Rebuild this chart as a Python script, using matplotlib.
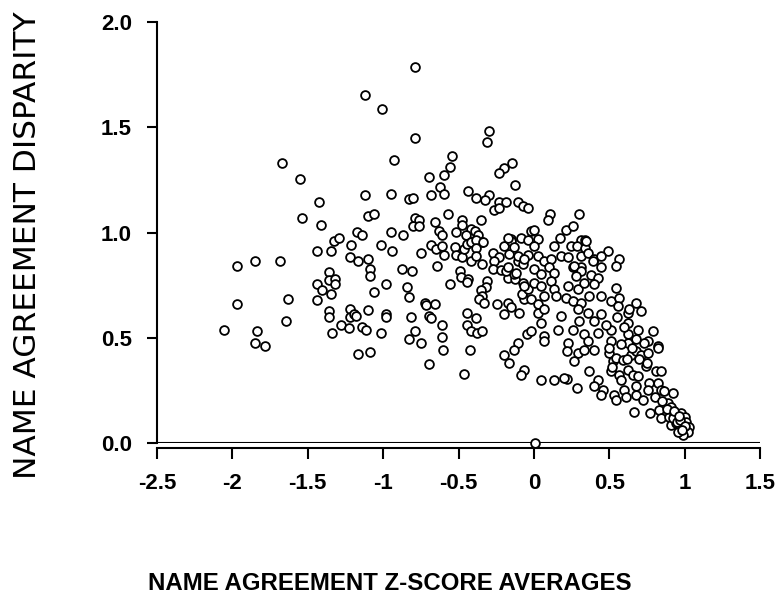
import matplotlib.pyplot as plt

# name agreement z-score averages (x) vs name agreement disparity (y)
zscore = [
    -1.674, -1.550, -1.427, -1.537, -1.415, -1.329, -1.291, -1.442, -1.347, -1.216,
    -1.221, -1.971, -1.849, -1.686, -1.360, -1.362, -1.322, -1.322, -1.442, -1.404,
    -1.347, -1.442, -1.971, -1.633, -1.646, -1.360, -1.360, -1.278, -1.229, -1.223,
    -1.223, -1.336, -2.053, -1.836, -1.849, -1.781,
    -0.789, -1.118, -1.008, -0.789, -0.299, -0.314, -0.926, -0.540, -0.558, -0.693,
    -0.598, -0.148, -0.197, -0.230, -0.124, -0.625, -0.598, -0.680, -1.118, -0.950,
    -0.829, -0.800, -0.439, -0.381, -0.299, -0.326, -0.230, -0.186, -0.264, -0.230,
    -0.108, -0.075, -0.038, -1.098, -1.061, -0.573, -0.791, -0.762, -0.802, -0.762,
    -0.653, -0.474, -0.474, -0.350, -1.172, -1.141, -0.950, -0.868, -0.628, -0.516,
    -0.419, -0.390, -0.452, -0.020,
    -0.611, -0.370, -0.397, -0.341, -0.153,
    -1.017, -0.939, -0.746, -0.684, -0.651, -0.607, -0.596, -0.525, -0.516, -0.474,
    -0.463, -0.441, -0.419, -0.383, -0.383, -0.339, -0.640, -0.556, -0.490, -0.485,
    -0.437, -0.445, -0.419, -0.383, -0.341,
    -0.272, -0.230, -0.264, -0.268, -0.219, -0.175, -0.126, -0.135, -0.186, -0.308,
    -0.317, -0.352, -0.341, -0.363, -0.330, -0.246, -0.175, -0.153, -0.197, -0.098,
    -0.064, -0.082, -0.042, -0.075, -0.108, -0.075, -0.042, -0.164, -0.197, -0.153,
    -1.167, -1.101, -1.088, -1.088, -1.061, -0.983, -0.873, -0.806, -0.844, -0.829,
    -1.194, -1.183, -1.101, -0.983, -0.983, -1.138, -1.116, -1.017, -1.167, -1.088,
    -0.817, -0.724, -0.716, -0.653, -0.693, -0.680, -0.609, -0.791, -0.829, -0.751,
    -0.611, -0.600, -0.693, -0.463,
    -0.441, -0.385, -0.441, -0.419, -0.379, -0.341, -0.423,
    -0.047, -0.108, -0.135, -0.197, -0.164, -0.064, -0.086,
    0.106, 0.091, 0.297, 0.002, 0.213, 0.257,
    -0.175, -0.086, -0.042, 0.029, 0.175, 0.312, 0.341,
    -0.131, 0.002, 0.135, 0.246, 0.286, 0.339, 0.490, 0.567, 0.545,
    -0.108, -0.064, 0.025, 0.068, 0.113, 0.179, 0.224, 0.312, 0.357, 0.401, 0.445,
    -0.175, -0.120, 0.002, 0.047, 0.102, 0.135, 0.257, 0.312, 0.379, 0.445, 0.423,
    -0.064, 0.002, 0.047, 0.113, 0.135, 0.224, 0.290, 0.334, 0.401, 0.545,
    -0.020, 0.025, 0.068, 0.146, 0.213, 0.257, 0.312, 0.367, 0.445, 0.512, 0.567, 0.678,
    0.025, 0.068, 0.179, 0.290, 0.357, 0.445, 0.556, 0.623, 0.711,
    -0.020, 0.047, 0.068, 0.157, 0.257, 0.334, 0.423, 0.512, 0.623, 0.689, 0.789,
    0.068, 0.224, 0.357, 0.512, 0.623, 0.756, 0.822,
    0.219, 0.290, 0.334, 0.401, 0.264,
    0.500, 0.523, 0.545, 0.589, 0.645, 0.678, 0.711, 0.756, 0.822,
    0.512, 0.567, 0.623, 0.656, 0.689, 0.744, 0.811, 0.844,
    0.367, 0.423, 0.219, 0.286,
    0.401, 0.456, 0.445, 0.534, 0.545, 0.600, 0.611, 0.678, 0.722, 0.766, 0.822, 0.844,
    0.866, 0.922,
    0.667, 0.773, 0.833, 0.844, 0.888, 0.910, 0.899, 0.932, 0.910, 0.944, 0.966, 0.977,
    0.999, 1.010, 1.032, 1.021, 0.988, 0.955,
    0.009, 0.047, 0.135, 0.201,
    0.390, 0.268, 0.312, 0.279, 0.634, 0.733, 0.678, 0.623, 0.346,
    0.300, 0.400, 0.480, 0.550, 0.600, 0.500, 0.580, 0.650, 0.700, 0.750,
    0.620, 0.520, 0.580, 0.680, 0.760, 0.800, 0.850, 0.880, 0.920, 0.950,
    0.970, 1.000, 0.980, 0.930, 0.960,
]
disparity = [
    1.330, 1.255, 1.147, 1.068, 1.037, 0.961, 0.972, 0.913, 0.913, 0.940,
    0.883, 0.842, 0.864, 0.864, 0.813, 0.775, 0.778, 0.757, 0.757, 0.726,
    0.710, 0.678, 0.659, 0.686, 0.579, 0.627, 0.598, 0.562, 0.547, 0.635,
    0.598, 0.524, 0.539, 0.530, 0.473, 0.463,
    1.784, 1.655, 1.588, 1.450, 1.481, 1.432, 1.345, 1.364, 1.313, 1.265,
    1.273, 1.332, 1.308, 1.283, 1.225, 1.217, 1.185, 1.176, 1.176, 1.185,
    1.157, 1.166, 1.197, 1.166, 1.176, 1.155, 1.146, 1.146, 1.107, 1.118,
    1.146, 1.128, 1.118, 1.077, 1.088, 1.088, 1.069, 1.060, 1.030, 1.030,
    1.050, 1.060, 1.036, 1.060, 1.004, 0.990, 1.004, 0.990, 1.009, 1.004,
    1.017, 1.007, 0.988, 1.009,
    0.990, 0.990, 0.959, 0.956, 0.969,
    0.940, 0.913, 0.905, 0.940, 0.921, 0.937, 0.893, 0.929, 0.893, 0.882,
    0.921, 0.945, 0.953, 0.966, 0.925, 0.953, 0.842, 0.757, 0.818, 0.791,
    0.781, 0.765, 0.865, 0.889, 0.850,
    0.905, 0.886, 0.865, 0.826, 0.822, 0.786, 0.778, 0.802, 0.818, 0.770,
    0.743, 0.727, 0.698, 0.683, 0.663, 0.659, 0.663, 0.648, 0.611, 0.619,
    0.683, 0.706, 0.730, 0.762, 0.865, 0.850, 0.893, 0.897, 0.937, 0.961,
    0.865, 0.874, 0.826, 0.794, 0.718, 0.754, 0.826, 0.818, 0.743, 0.695,
    0.611, 0.603, 0.630, 0.611, 0.600, 0.552, 0.539, 0.524, 0.425, 0.433,
    0.600, 0.667, 0.654, 0.659, 0.603, 0.592, 0.563, 0.531, 0.492, 0.473,
    0.503, 0.444, 0.377, 0.328,
    0.619, 0.595, 0.563, 0.531, 0.524, 0.531, 0.441,
    0.516, 0.473, 0.444, 0.420, 0.380, 0.348, 0.325,
    1.088, 1.060, 1.088, 1.012, 1.012, 1.030,
    0.972, 0.972, 0.966, 0.969, 0.972, 0.966, 0.966,
    0.929, 0.937, 0.937, 0.934, 0.937, 0.925, 0.913, 0.874, 0.842,
    0.889, 0.874, 0.889, 0.865, 0.874, 0.889, 0.882, 0.889, 0.905, 0.874, 0.889,
    0.834, 0.810, 0.826, 0.802, 0.834, 0.810, 0.834, 0.834, 0.797, 0.834, 0.786,
    0.746, 0.762, 0.746, 0.770, 0.730, 0.746, 0.730, 0.762, 0.754, 0.738,
    0.683, 0.659, 0.698, 0.698, 0.691, 0.674, 0.667, 0.698, 0.698, 0.674, 0.691, 0.667,
    0.619, 0.635, 0.603, 0.635, 0.619, 0.611, 0.651, 0.619, 0.627,
    0.531, 0.571, 0.507, 0.539, 0.539, 0.516, 0.524, 0.539, 0.571, 0.539, 0.531,
    0.484, 0.476, 0.484, 0.484, 0.476, 0.484, 0.460,
    0.436, 0.428, 0.444, 0.444, 0.388,
    0.428, 0.388, 0.404, 0.396, 0.420, 0.436, 0.420, 0.428, 0.452,
    0.340, 0.325, 0.348, 0.325, 0.317, 0.364, 0.340, 0.340,
    0.340, 0.301, 0.304, 0.261,
    0.269, 0.253, 0.229, 0.229, 0.205, 0.253, 0.221, 0.229, 0.205, 0.285, 0.285, 0.253,
    0.245, 0.240,
    0.149, 0.141, 0.158, 0.118, 0.189, 0.173, 0.126, 0.134, 0.086, 0.094, 0.070, 0.141,
    0.126, 0.102, 0.078, 0.054, 0.038, 0.054,
    0.000, 0.301, 0.301, 0.310,
    0.865, 0.842, 0.818, 0.794, 0.635, 0.476, 0.492, 0.516, 0.961,
    0.580, 0.580, 0.560, 0.600, 0.550, 0.450, 0.470, 0.450, 0.400, 0.380,
    0.400, 0.360, 0.300, 0.270, 0.250, 0.220, 0.200, 0.160, 0.120, 0.100,
    0.110, 0.080, 0.060, 0.150, 0.130,
]

x_ticks = [-2.5, -2, -1.5, -1, -0.5, 0, 0.5, 1, 1.5]
x_tick_labels = ['-2.5', '-2', '-1.5', '-1', '-0.5', '0', '0.5', '1', '1.5']
y_ticks = [0.0, 0.5, 1.0, 1.5, 2.0]
y_tick_labels = ['0.0', '0.5', '1.0', '1.5', '2.0']

plt.rcParams['font.family'] = ['Liberation Sans', 'DejaVu Sans']

fig = plt.figure(figsize=(7.8, 6.03), dpi=100)
ax = fig.add_axes([0.2013, 0.2653, 0.7731, 0.6982])

# spine position first: moving a spine resets the tick labels
for side in ['top', 'right']:
    ax.spines[side].set_visible(False)
ax.spines['bottom'].set_position(('outward', 3.6))
ax.spines['left'].set_linewidth(1.5)
ax.spines['bottom'].set_linewidth(1.5)

ax.scatter(zscore, disparity, s=40, facecolors='white', edgecolors='black',
           linewidths=1.3, clip_on=False, zorder=3)
ax.axhline(0, color='black', lw=1.5, zorder=2)

ax.set_xlim(-2.5, 1.5)
ax.set_ylim(0, 2.0)
ax.set_xticks(x_ticks)
ax.set_xticklabels(x_tick_labels, fontsize=16, fontweight='bold')
ax.set_yticks(y_ticks)
ax.set_yticklabels(y_tick_labels, fontsize=16, fontweight='bold')
ax.tick_params(axis='x', direction='out', length=8, width=1.5, pad=10)
ax.tick_params(axis='y', direction='out', length=7, width=1.5, pad=11)

fig.text(0.035, 0.594, 'NAME AGREEMENT DISPARITY', rotation=90, fontsize=22.5,
         family='DejaVu Sans', ha='center', va='center')
fig.text(0.5, 0.033, 'NAME AGREEMENT Z-SCORE AVERAGES', fontsize=17.3,
         fontweight='bold', ha='center', va='center')

plt.savefig('out.png', dpi=100)
